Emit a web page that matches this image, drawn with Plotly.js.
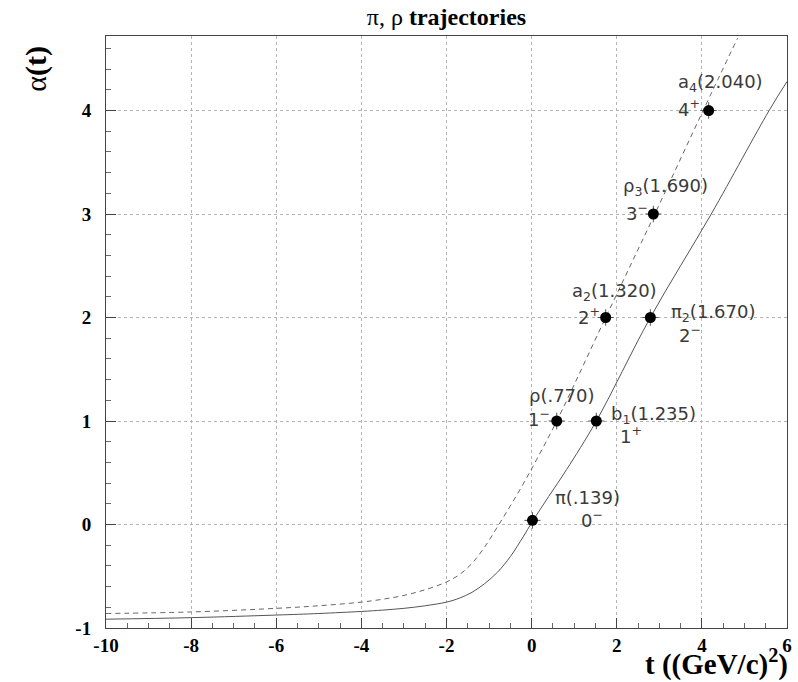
<!DOCTYPE html>
<html>
<head>
<meta charset="utf-8">
<script src="https://cdn.plot.ly/plotly-3.0.1.min.js"></script>
<style>html,body{margin:0;padding:0;background:#fff;}#chart{width:798px;height:682px;}</style>
</head>
<body>
<div id="chart"></div>
<script>
// pi trajectory (solid)
const tSolid = [-10, -8, -6, -5, -4, -3.5, -3, -2.5, -2, -1.7, -1.4, -1.1, -0.8, -0.5, -0.2, 0.02, 0.4, 0.82, 1.52, 2.79, 4.22, 5.58, 6.0];
const aSolid = [-0.915, -0.90, -0.875, -0.86, -0.84, -0.827, -0.81, -0.785, -0.75, -0.712, -0.655, -0.57, -0.46, -0.31, -0.12, 0.03, 0.27, 0.53, 1.0, 2.0, 3.0, 4.0, 4.28];
// rho trajectory (dashed)
const tDashed = [-10, -8, -6, -5, -4, -3.5, -3, -2.5, -2, -1.7, -1.4, -1.1, -0.8, -0.5, -0.2, 0.12, 0.59, 1.74, 2.86, 4.03, 4.84];
const aDashed = [-0.86, -0.845, -0.81, -0.785, -0.75, -0.722, -0.685, -0.63, -0.555, -0.485, -0.375, -0.215, -0.02, 0.18, 0.39, 0.63, 1.0, 2.0, 2.97, 4.0, 4.7];
// particles
const names = ['π', 'ρ', 'b<sub>1</sub>', 'a<sub>2</sub>', 'π<sub>2</sub>', 'ρ<sub>3</sub>', 'a<sub>4</sub>'];
const masses = ['.139', '.770', '1.235', '1.320', '1.670', '1.690', '2.040'];
const jp = ['0<sup>−</sup>', '1<sup>−</sup>', '1<sup>+</sup>', '2<sup>+</sup>', '2<sup>−</sup>', '3<sup>−</sup>', '4<sup>+</sup>'];
const tPts = [0.02, 0.59, 1.52, 1.74, 2.79, 2.86, 4.16];
const aPts = [0.04, 1, 1, 2, 2, 3, 4];
const xTicks = [-10, -8, -6, -4, -2, 0, 2, 4, 6];
const yTicks = [-1, 0, 1, 2, 3, 4];

// label placement (pixel shifts relative to each marker)
const nameShift = [[55, 23], [5, 26], [57, 6], [9, 26], [63, 5], [12, 27], [12, 28]];
const jpShift = [[60, 1], [-18, 3], [35, -14], [-17, 2], [40, -16], [-16, 2], [-20, 3]];

const serif = 'Liberation Serif, Times New Roman, serif';
const labFont = {family: 'DejaVu Sans, sans-serif', size: 18, color: '#3a3a3a'};

const traces = [
  {x: tSolid, y: aSolid, mode: 'lines', line: {color: '#555', width: 1, shape: 'spline', smoothing: 1}, hoverinfo: 'skip'},
  {x: tDashed, y: aDashed, mode: 'lines', line: {color: '#666', width: 1, dash: '5px,4px', shape: 'spline', smoothing: 1}, hoverinfo: 'skip'},
  {x: tPts, y: aPts, mode: 'markers', marker: {color: '#000', size: 11},
   error_x: {type: 'constant', value: 0.19, width: 0, thickness: 1, color: '#555'},
   error_y: {type: 'constant', value: 0.08, width: 0, thickness: 1, color: '#555'}}
];

const annotations = [];
for (let i = 0; i < names.length; i++) {
  annotations.push({x: tPts[i], y: aPts[i], xref: 'x', yref: 'y', text: names[i] + '(' + masses[i] + ')',
    showarrow: false, xshift: nameShift[i][0], yshift: nameShift[i][1], font: labFont});
  annotations.push({x: tPts[i], y: aPts[i], xref: 'x', yref: 'y', text: jp[i],
    showarrow: false, xshift: jpShift[i][0], yshift: jpShift[i][1], font: labFont});
}
annotations.push({xref: 'paper', yref: 'paper', x: 1.005, y: -0.058, xanchor: 'right', yanchor: 'middle',
  text: '<b>t ((GeV/c)<sup>2</sup>)</b>', showarrow: false, font: {family: serif, size: 29, color: '#000'}});
annotations.push({xref: 'paper', yref: 'paper', x: -0.104, y: 0.945, xanchor: 'center', yanchor: 'middle',
  textangle: -90, text: 'α<b>(t)</b>', showarrow: false, font: {family: serif, size: 30, color: '#000'}});

const layout = {
  width: 798, height: 682,
  margin: {l: 106, r: 11, t: 36, b: 54},
  paper_bgcolor: '#fff', plot_bgcolor: '#fff',
  showlegend: false,
  title: {text: 'π, ρ <b>trajectories</b>', font: {family: serif, size: 24, color: '#000'},
    x: 0.5595, xanchor: 'center', y: 0.975, yanchor: 'middle', yref: 'container'},
  xaxis: {
    range: [-10, 6], tickvals: xTicks, ticktext: xTicks.map(String),
    showgrid: true, gridcolor: '#b4b4b4', griddash: 'dot', gridwidth: 1, zeroline: false,
    showline: true, linecolor: '#444', linewidth: 1, mirror: true,
    ticks: 'inside', ticklen: 10, tickcolor: '#444',
    minor: {dtick: 0.5, ticks: 'inside', ticklen: 5, tickcolor: '#666', showgrid: false},
    tickfont: {family: serif, size: 19, color: '#000', weight: 'bold'}
  },
  yaxis: {
    range: [-1, 4.72], tickvals: yTicks, ticktext: yTicks.map(String),
    showgrid: true, gridcolor: '#b4b4b4', griddash: 'dot', gridwidth: 1, zeroline: false,
    showline: true, linecolor: '#444', linewidth: 1, mirror: true,
    ticks: 'inside', ticklen: 10, tickcolor: '#444',
    minor: {dtick: 0.2, ticks: 'inside', ticklen: 5, tickcolor: '#666', showgrid: false},
    tickfont: {family: serif, size: 19, color: '#000', weight: 'bold'},
    ticklabelstandoff: 10
  },
  annotations: annotations
};

Plotly.newPlot('chart', traces, layout, {displayModeBar: false, staticPlot: true});
</script>
</body>
</html>
